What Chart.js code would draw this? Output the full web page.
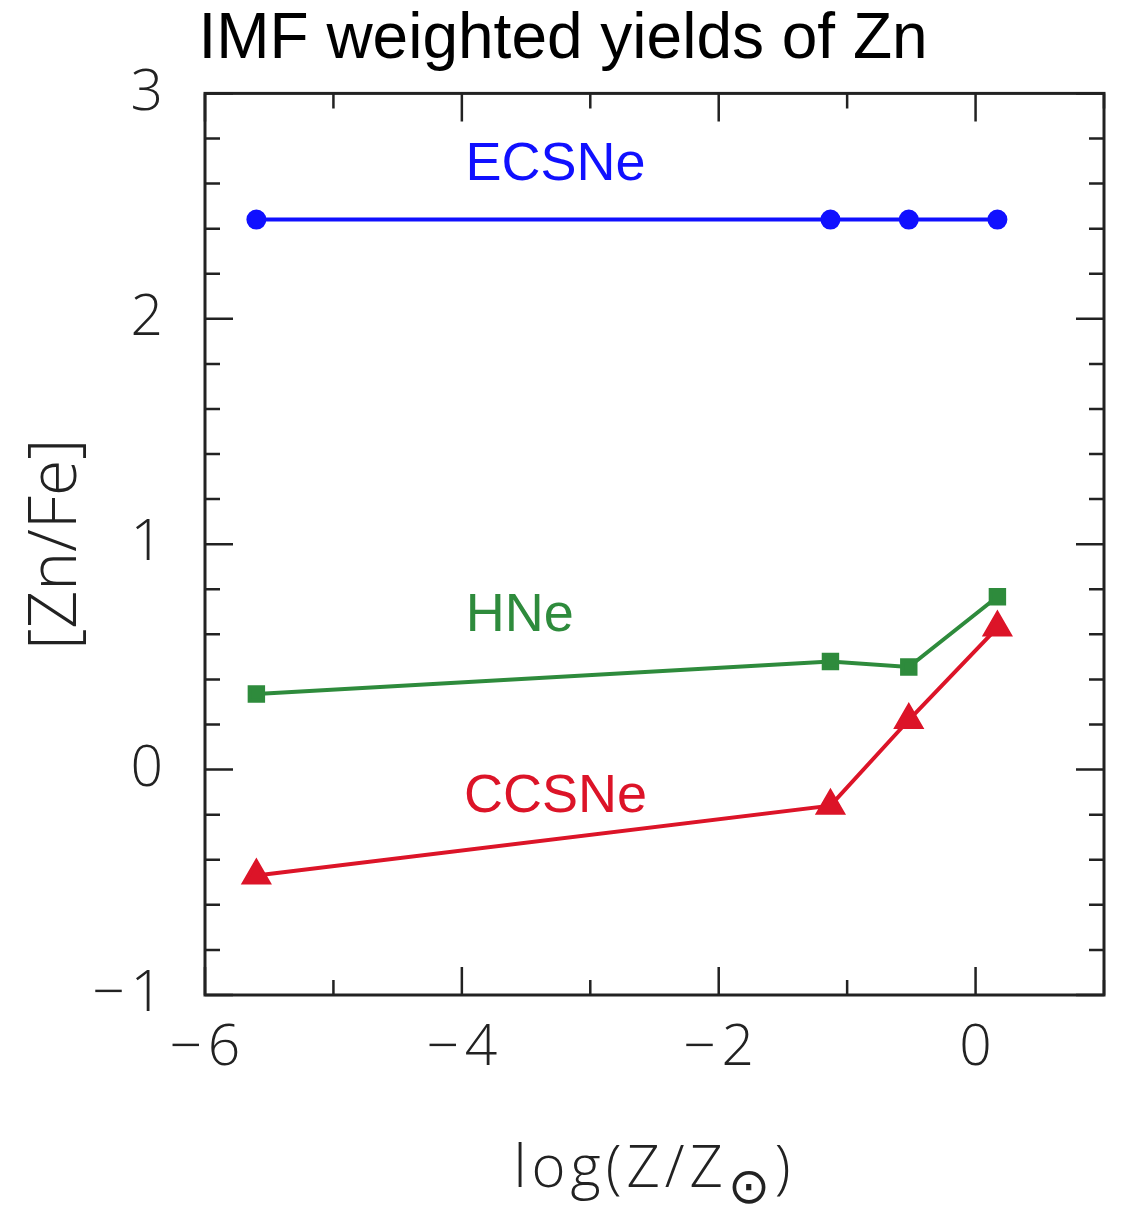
<!DOCTYPE html>
<html>
<head>
<meta charset="utf-8">
<script src="https://cdn.jsdelivr.net/npm/chart.js@4"></script>
<style>
  html, body { margin: 0; padding: 0; background: #fff; }
  #wrap { width: 1126px; height: 1209px; }
</style>
</head>
<body>
<div id="wrap"><canvas id="yieldsChart"></canvas></div>
<script>
// log(Z/Zsun) of the models (first one is Z = 0, put at -5.6)
const logZ = [-5.6, -1.13, -0.52, 0.17];
const ecsne = [2.44, 2.44, 2.44, 2.44];
const hne = [0.335, 0.48, 0.455, 0.767];
const ccsne = [-0.47, -0.16, 0.22, 0.63];

const seriesNames = ['ECSNe', 'HNe', 'CCSNe'];
const xTickLabels = [-6, -4, -2, 0];
const yTickLabels = [-1, 0, 1, 2, 3];

const BLUE = '#1010ff';
const GREEN = '#2e8b3c';
const RED = '#dc1428';
const AXIS = '#222';
const THIN = '"Open Sans", Lato, "Liberation Sans", sans-serif';

const toPoints = vals => vals.map((v, i) => ({ x: logZ[i], y: v }));
const minus = v => (v < 0 ? '\u2212\u200a' + Math.abs(v) : String(v));

// frame + inward ticks on all four sides, series names, x title with subscript
const framePlugin = {
    id: 'frame',
    afterDraw(chart) {
        const { ctx, chartArea: a, scales } = chart;
        const xs = scales.x, ys = scales.y;
        ctx.save();
        ctx.strokeStyle = AXIS;
        ctx.lineWidth = 3;
        ctx.strokeRect(a.left, a.top, a.right - a.left, a.bottom - a.top);
        ctx.lineWidth = 2.5;
        ctx.beginPath();
        for (let v = -6; v <= 1; v++) {
            const px = xs.getPixelForValue(v);
            const len = v % 2 === 0 ? 28 : 15;
            ctx.moveTo(px, a.bottom); ctx.lineTo(px, a.bottom - len);
            ctx.moveTo(px, a.top); ctx.lineTo(px, a.top + len);
        }
        for (let k = -5; k <= 15; k++) {
            const py = ys.getPixelForValue(k / 5);
            const len = k % 5 === 0 ? 28 : 15;
            ctx.moveTo(a.left, py); ctx.lineTo(a.left + len, py);
            ctx.moveTo(a.right, py); ctx.lineTo(a.right - len, py);
        }
        ctx.stroke();

        // series names written next to the curves
        const names = [
            { t: seriesNames[0], x: -3.27, y: 2.68, c: BLUE },
            { t: seriesNames[1], x: -3.55, y: 0.68, c: GREEN },
            { t: seriesNames[2], x: -3.27, y: -0.12, c: RED }
        ];
        ctx.font = '54px "Liberation Sans", sans-serif';
        ctx.textAlign = 'center';
        ctx.textBaseline = 'middle';
        names.forEach(n => {
            ctx.fillStyle = n.c;
            ctx.fillText(n.t, xs.getPixelForValue(n.x), ys.getPixelForValue(n.y));
        });

        // x axis title: log(Z/Z_sun), sun symbol as subscript
        const main = 'log(Z/Z', sub = '\u2299', close = ')';
        const mainFont = '300 58px ' + THIN;
        const subFont = '50px "DejaVu Sans", sans-serif';
        ctx.textAlign = 'left';
        ctx.textBaseline = 'alphabetic';
        ctx.fillStyle = '#222';
        ctx.letterSpacing = '5px';
        ctx.font = mainFont;
        const w1 = ctx.measureText(main).width;
        const w3 = ctx.measureText(close).width;
        ctx.font = subFont;
        const w2 = ctx.measureText(sub).width;
        const cx = (a.left + a.right) / 2;
        const x0 = cx - (w1 + w2 + w3) / 2;
        const base = 1187;
        ctx.font = mainFont;
        ctx.fillText(main, x0, base);
        ctx.font = subFont;
        ctx.fillText(sub, x0 + w1, base + 16);
        ctx.font = mainFont;
        ctx.fillText(close, x0 + w1 + w2, base);
        ctx.restore();
    }
};

const ctx = document.getElementById('yieldsChart').getContext('2d');

new Chart(ctx, {
    type: 'line',
    data: {
        datasets: [{
            label: seriesNames[0],
            data: toPoints(ecsne),
            borderColor: BLUE,
            backgroundColor: BLUE,
            borderWidth: 4,
            pointStyle: 'circle',
            pointRadius: 8
        }, {
            label: seriesNames[1],
            data: toPoints(hne),
            borderColor: GREEN,
            backgroundColor: GREEN,
            borderWidth: 4,
            pointStyle: 'rect',
            pointRadius: 9.5
        }, {
            label: seriesNames[2],
            data: toPoints(ccsne),
            borderColor: RED,
            backgroundColor: RED,
            borderWidth: 4,
            pointStyle: 'triangle',
            pointRadius: 14
        }]
    },
    options: {
        responsive: true,
        maintainAspectRatio: false,
        animation: false,
        layout: { padding: { left: 22, right: 22, top: 0, bottom: 0 } },
        plugins: {
            legend: { display: false },
            tooltip: { enabled: false },
            title: {
                display: true,
                text: 'IMF weighted yields of Zn',
                color: '#000',
                font: { family: '"Liberation Sans", sans-serif', size: 64, weight: 'normal', lineHeight: 1.1 },
                padding: { top: 5, bottom: 18 }
            }
        },
        elements: { line: { tension: 0 } },
        scales: {
            x: {
                type: 'linear',
                min: -6,
                max: 1,
                grid: { display: false, drawTicks: false },
                border: { display: false },
                afterFit: s => { s.height = 214; },
                ticks: {
                    stepSize: 1,
                    autoSkip: false,
                    maxRotation: 0,
                    padding: 20,
                    color: '#222',
                    font: { family: THIN, size: 57, weight: 300 },
                    callback: v => (xTickLabels.includes(v) ? minus(v) : '')
                }
            },
            y: {
                type: 'linear',
                min: -1,
                max: 3,
                grid: { display: false, drawTicks: false },
                border: { display: false },
                afterFit: s => { s.width = 183; },
                ticks: {
                    stepSize: 0.2,
                    autoSkip: false,
                    padding: 42,
                    color: '#222',
                    font: { family: THIN, size: 57, weight: 300 },
                    callback: v => {
                        const r = Math.round(v);
                        return Math.abs(v - r) < 1e-6 && yTickLabels.includes(r) ? minus(r) : '';
                    }
                },
                title: {
                    display: true,
                    text: '[Zn/Fe]',
                    color: '#222',
                    font: { family: THIN, size: 66, weight: 300 },
                    padding: { top: -4, bottom: 0 }
                }
            }
        }
    },
    plugins: [framePlugin]
});
</script>
</body>
</html>
